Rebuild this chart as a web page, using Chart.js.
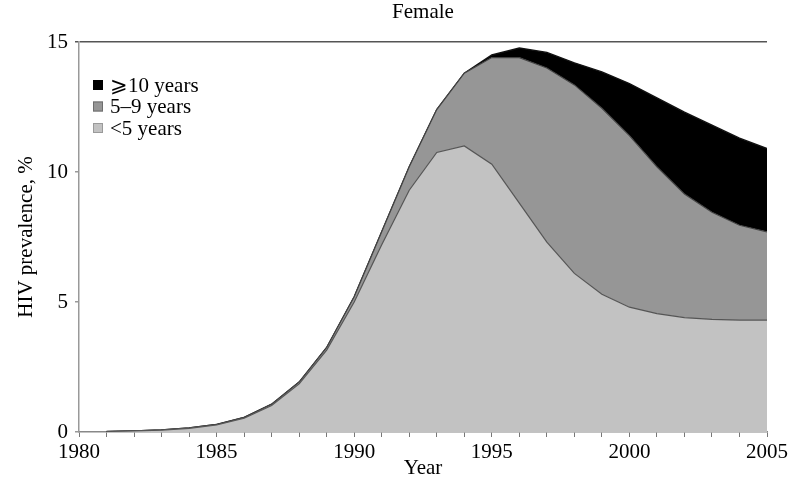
<!DOCTYPE html>
<html>
<head>
<meta charset="utf-8">
<script src="https://cdn.jsdelivr.net/npm/chart.js@4"></script>
<style>
  html, body { margin: 0; padding: 0; background: #fff; }
  #wrap { width: 791px; height: 488px; }
</style>
</head>
<body>
<div id="wrap"><canvas id="chart"></canvas></div>
<script>
const years = [1981, 1982, 1983, 1984, 1985, 1986, 1987, 1988, 1989, 1990, 1991, 1992, 1993,
  1994, 1995, 1996, 1997, 1998, 1999, 2000, 2001, 2002, 2003, 2004, 2005];
const under5 = [0.02, 0.04, 0.07, 0.14, 0.27, 0.53, 1.02, 1.85, 3.15, 5.0, 7.2, 9.3, 10.75,
  11.0, 10.3, 8.8, 7.3, 6.1, 5.3, 4.8, 4.55, 4.4, 4.33, 4.3, 4.3];
const fiveToNine = [0, 0, 0.01, 0.02, 0.02, 0.03, 0.05, 0.07, 0.1, 0.2, 0.5, 0.9, 1.65,
  2.8, 4.1, 5.6, 6.7, 7.25, 7.15, 6.6, 5.65, 4.75, 4.12, 3.65, 3.4];
const tenPlus = [0, 0, 0, 0, 0, 0, 0, 0, 0, 0, 0, 0, 0,
  0, 0.1, 0.37, 0.6, 0.85, 1.4, 2.0, 2.65, 3.15, 3.35, 3.35, 3.2];
const yTicks = [0, 5, 10, 15];
const chartTitle = 'Female';

const serif = '"Liberation Serif", "Times New Roman", serif';
const fontSize = 21;

const toPoints = arr => years.map((yr, i) => ({ x: yr, y: arr[i] }));

// title centred over the plot, legend inside the plot top-left
const overlay = {
  id: 'overlay',
  afterDraw(chart) {
    const ctx = chart.ctx;
    const area = chart.chartArea;
    ctx.save();
    ctx.font = fontSize + 'px ' + serif;
    ctx.fillStyle = '#000';
    ctx.textBaseline = 'middle';
    ctx.textAlign = 'center';
    ctx.fillText(chartTitle, (area.left + area.right) / 2, 12);

    ctx.textAlign = 'left';
    const sets = chart.data.datasets.slice().reverse();
    sets.forEach((ds, i) => {
      const cy = area.top + 43 + i * 21.5;
      const bx = area.left + 14;
      ctx.fillStyle = ds.backgroundColor;
      ctx.fillRect(bx, cy - 5, 10, 10);
      ctx.strokeStyle = ds.legendBorder;
      ctx.lineWidth = 1;
      ctx.strokeRect(bx + 0.5, cy - 4.5, 9, 9);
      ctx.fillStyle = '#000';
      ctx.fillText(ds.label, bx + 17, cy + 1);
    });
    ctx.restore();
  }
};

new Chart(document.getElementById('chart'), {
  type: 'line',
  data: {
    datasets: [
      {
        label: '<5 years',
        data: toPoints(under5),
        backgroundColor: '#c2c2c2',
        borderColor: '#555',
        legendBorder: '#9a9a9a',
        borderWidth: 1.2,
        fill: 'origin',
        pointRadius: 0,
        tension: 0
      },
      {
        label: '5–9 years',
        data: toPoints(fiveToNine),
        backgroundColor: '#969696',
        borderColor: '#444',
        legendBorder: '#6e6e6e',
        borderWidth: 1.2,
        fill: '-1',
        pointRadius: 0,
        tension: 0
      },
      {
        label: '⩾10 years',
        data: toPoints(tenPlus),
        backgroundColor: '#000',
        borderColor: '#111',
        legendBorder: '#000',
        borderWidth: 1.4,
        fill: '-1',
        pointRadius: 0,
        tension: 0
      }
    ]
  },
  options: {
    responsive: true,
    maintainAspectRatio: false,
    animation: false,
    layout: { padding: { left: 0, right: 23, top: 42, bottom: 0 } },
    plugins: {
      legend: { display: false },
      tooltip: { enabled: false },
      title: { display: false }
    },
    scales: {
      x: {
        type: 'linear',
        min: 1980,
        max: 2005,
        afterFit: scale => { scale.height = 56; },
        border: { display: true, color: '#888', width: 1.5 },
        grid: {
          drawOnChartArea: false,
          tickLength: 5,
          tickColor: '#777'
        },
        ticks: {
          stepSize: 1,
          autoSkip: false,
          maxRotation: 0,
          padding: 3,
          color: '#000',
          font: { family: serif, size: fontSize },
          callback: value => (value % 5 === 0 ? String(value) : '')
        },
        title: {
          display: true,
          text: 'Year',
          color: '#000',
          font: { family: serif, size: fontSize },
          padding: { top: 0, bottom: 7 }
        }
      },
      y: {
        stacked: true,
        min: 0,
        max: 15,
        afterFit: scale => { scale.width = 79; },
        afterBuildTicks: scale => { scale.ticks = yTicks.map(v => ({ value: v })); },
        border: { display: true, color: '#999', width: 1.5 },
        grid: {
          color: c => (c.tick && c.tick.value === 15 ? '#555' : 'rgba(0,0,0,0)'),
          tickColor: c => (c.tick && c.tick.value === 15 ? '#555' : '#999'),
          lineWidth: 1.5,
          tickLength: 4
        },
        ticks: {
          padding: 7,
          color: '#000',
          font: { family: serif, size: fontSize }
        },
        title: {
          display: true,
          text: 'HIV prevalence, %',
          color: '#000',
          font: { family: serif, size: fontSize },
          padding: { top: 14, bottom: 0 }
        }
      }
    }
  },
  plugins: [overlay]
});
</script>
</body>
</html>
